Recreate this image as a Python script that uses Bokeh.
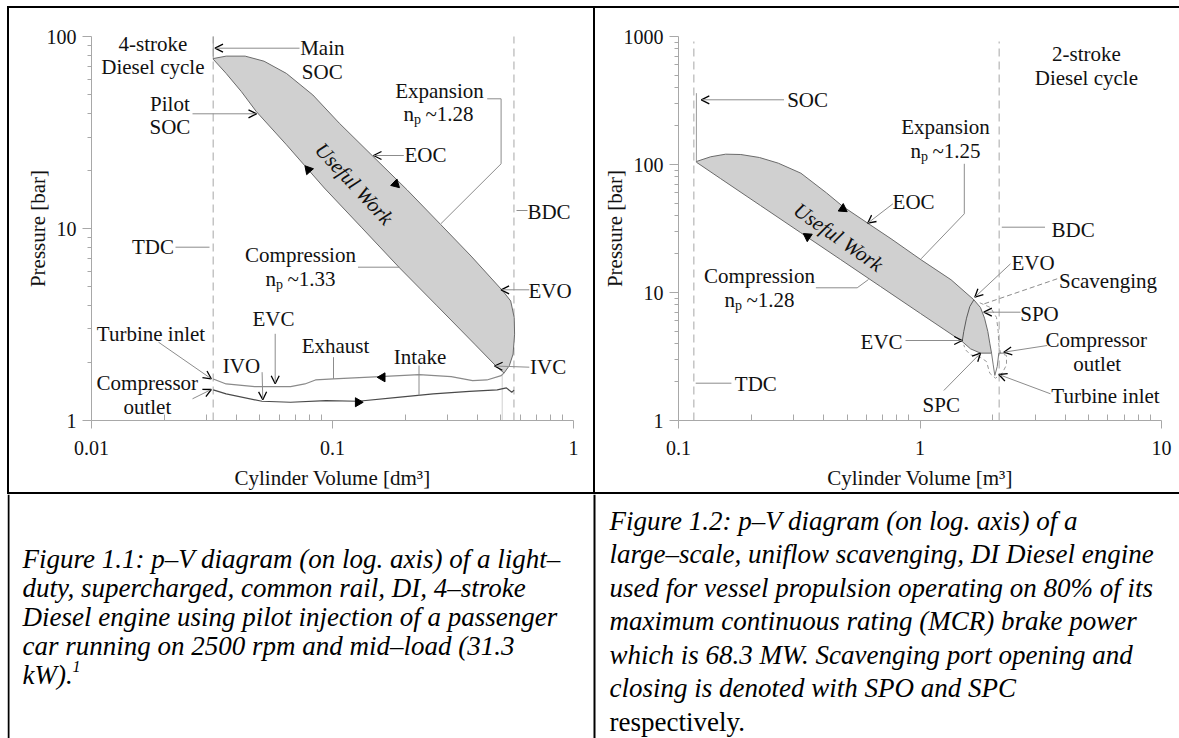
from bokeh.plotting import figure
from bokeh.models import (Range1d, FixedTicker, Label, Arrow, OpenHead, Div, Spacer,
                          CustomJSTickFormatter)
from bokeh.layouts import row, column
from bokeh.embed import file_html
from bokeh.resources import INLINE
import math

FONT = "'Liberation Serif'"

# ---------------- data: Figure 1.1 (4-stroke, light-duty) ----------------
x1_ticks = [0.01, 0.1, 1]
x1_labels = ["0.01", "0.1", "1"]
y1_ticks = [1, 10, 100]
y1_labels = ["1", "10", "100"]

# closed work loop: expansion (upper) to BDC, then compression back to TDC
loop1_v = [0.0320, 0.0362, 0.0434, 0.0520, 0.0644, 0.0829, 0.1067, 0.1474, 0.2037,
           0.2814, 0.3758, 0.5093, 0.5487, 0.5675, 0.5696, 0.5615, 0.5415, 0.5152,
           0.4833, 0.3890, 0.2716, 0.1895, 0.1325, 0.0925, 0.0644, 0.0483, 0.0419,
           0.0362, 0.0320]
loop1_p = [77.1, 79.4, 79.4, 74.7, 64.5, 49.8, 35.5, 23.8, 15.97,
           10.5, 7.20, 4.73, 4.20, 3.44, 2.82, 2.22, 1.93, 1.77,
           1.89, 2.50, 3.96, 6.26, 10.1, 16.3, 27.4, 40.8, 51.8,
           64.5, 76.5]
exhaust1_v = [0.032, 0.0362, 0.0476, 0.0670, 0.0768, 0.0850, 0.1009, 0.1572, 0.2288,
              0.3108, 0.3814, 0.4373, 0.5012, 0.515]
exhaust1_p = [1.647, 1.551, 1.502, 1.502, 1.551, 1.627, 1.647, 1.693, 1.734,
              1.693, 1.614, 1.627, 1.713, 1.77]
intake1_v = [0.032, 0.0362, 0.0510, 0.0670, 0.0940, 0.1277, 0.1862, 0.2618, 0.3698,
             0.4823, 0.5266, 0.5544, 0.567]
intake1_p = [1.444, 1.376, 1.260, 1.245, 1.270, 1.260, 1.321, 1.376, 1.420,
             1.444, 1.479, 1.403, 1.44]
tdc1_v = 0.032
bdc1_v = 0.566
ivc1_v = 0.506
soc1_p = [77.1, 106.0]
ref1_p = [1.0, 106.0]
ivc1_p = [1.0, 1.75]

# direction markers (x, y, rotation in degrees)
dir1_v = [0.0794, 0.1829, 0.1611, 0.1276]
dir1_p = [20.3, 17.1, 1.679, 1.245]
dir1_a = [41, -134, 90, -90]

# ---------------- data: Figure 1.2 (2-stroke, large scale) ----------------
x2_ticks = [0.1, 1, 10]
x2_labels = ["0.1", "1", "10"]
y2_ticks = [1, 10, 100, 1000]
y2_labels = ["1", "10", "100", "1000"]

loop2_v = [0.1186, 0.1359, 0.1568, 0.1811, 0.2164, 0.2590, 0.3213, 0.4100, 0.4794,
           0.6074, 0.7585, 1.0106, 1.345, 1.671, 1.780, 1.850, 1.909, 1.945, 1.978,
           1.780, 1.619, 1.495, 1.005, 0.686, 0.4688, 0.3201, 0.2185, 0.1492, 0.1186]
loop2_p = [105.5, 114.9, 120.4, 119.7, 113.4, 102.4, 85.5, 60.0, 47.0,
           34.8, 26.3, 18.0, 12.57, 8.77, 7.63, 6.30, 4.96, 4.02, 3.36,
           3.36, 3.63, 4.14, 6.85, 11.14, 18.1, 29.4, 47.8, 77.7, 104.2]
evo2_v = [1.495, 1.518, 1.558, 1.608, 1.671]
evo2_p = [4.14, 4.96, 6.30, 7.77, 8.77]
turb2_v = [1.978, 2.010, 2.041, 2.088, 2.120, 2.259]
turb2_p = [3.36, 2.72, 2.25, 2.64, 3.36, 3.36]
scav2_v = [1.768, 1.958, 2.074, 2.108, 2.120, 2.154, 2.281, 2.281, 2.190, 2.054,
           1.945, 1.885, 1.780, 1.619, 1.543, 1.518]
scav2_p = [8.31, 7.63, 6.38, 4.96, 3.90, 3.36, 3.22, 2.72, 2.34, 2.14,
           2.34, 2.89, 3.11, 3.26, 3.57, 3.90]
tdc2_v = 0.1157
bdc2_v = 2.128
soc2_v = 0.1186
soc2_p = [105.5, 361.0]
ref2_p = [1.0, 914.0]

dir2_v = [0.4794, 0.3424]
dir2_p = [45.1, 27.4]
dir2_a = [-124, 56]

# ---------------- captions ----------------
cap_left = ["Figure 1.1: p\u2013V diagram (on log. axis) of a light\u2013",
            "duty, supercharged, common rail, DI, 4\u2013stroke",
            "Diesel engine using pilot injection of a passenger",
            "car running on 2500 rpm and mid\u2013load (31.3",
            "kW)."]
cap_right = ["Figure 1.2: p\u2013V diagram (on log. axis) of a",
             "large\u2013scale, uniflow scavenging, DI Diesel engine",
             "used for vessel propulsion operating on 80% of its",
             "maximum continuous rating (MCR) brake power",
             "which is 68.3 MW. Scavenging port opening and",
             "closing is denoted with SPO and SPC"]
cap_right_last = "respectively."

AX = "#a8a8a8"
LEAD = "#8c8c8c"

Y1_TOP = 100.5
# frame geometry (page pixels) used to place annotations
F1_LEFT, F1_BOTTOM, F1_DX, F1_DY = 91, 420, 241.0, 384.0 / math.log10(Y1_TOP)
F2_LEFT, F2_BOTTOM, F2_DX, F2_DY = 678, 420, 241.5, 128.0


def minor_of(ticks):
    return [t * k for t in ticks[:-1] for k in range(2, 10)]


def make_panel(xr, yr, mb, xt, xl, yt, yl, xtitle, ybounds):
    p = figure(width=584, height=484, x_axis_type="log", y_axis_type="log",
               x_range=Range1d(*xr), y_range=Range1d(*yr), title_location=None,
               min_border_left=mb[0], min_border_right=mb[1],
               min_border_top=mb[2], min_border_bottom=mb[3],
               output_backend="svg", toolbar_location=None)
    p.xgrid.visible = False
    p.ygrid.visible = False
    p.outline_line_color = None
    p.background_fill_color = "white"
    p.border_fill_color = "white"
    xa = p.xaxis[0]
    ya = p.yaxis[0]
    xa.ticker = FixedTicker(ticks=xt, minor_ticks=minor_of(xt))
    ya.ticker = FixedTicker(ticks=yt, minor_ticks=minor_of(yt))
    fmt = "return tick.toString();"
    xa.formatter = CustomJSTickFormatter(code=fmt)
    ya.formatter = CustomJSTickFormatter(code=fmt)
    xa.major_label_overrides = dict(zip(xt, xl))
    ya.major_label_overrides = dict(zip(yt, yl))
    ya.bounds = ybounds
    xa.axis_label = xtitle
    ya.axis_label = "Pressure [bar]"
    for a in (xa, ya):
        a.axis_line_color = AX
        a.major_tick_line_color = AX
        a.minor_tick_line_color = AX
        a.major_label_text_font = FONT
        a.major_label_text_font_size = "20px"
        a.major_label_text_color = "#111111"
        a.axis_label_text_font = FONT
        a.axis_label_text_font_size = "21px"
        a.axis_label_text_font_style = "normal"
        a.axis_label_text_color = "#111111"
    xa.major_tick_out = 8
    xa.major_tick_in = 0
    xa.minor_tick_in = 6
    xa.minor_tick_out = 0
    xa.major_label_standoff = 12
    xa.axis_label_standoff = 8
    ya.major_tick_out = 9
    ya.major_tick_in = 0
    ya.minor_tick_out = 4
    ya.minor_tick_in = 0
    ya.major_label_standoff = 6
    ya.axis_label_standoff = -6
    return p


def conv1(px, py):
    return 10 ** ((px - F1_LEFT) / F1_DX - 2), 10 ** ((F1_BOTTOM - py) / F1_DY)


def conv2(px, py):
    return 10 ** ((px - F2_LEFT) / F2_DX - 1), 10 ** ((F2_BOTTOM - py) / F2_DY)


def add_labels(p, conv, items):
    for text, px, py in items:
        x, y = conv(px, py)
        p.add_layout(Label(x=x, y=y, text=text, text_font=FONT, text_font_size="21px",
                           text_align="center", text_baseline="middle", text_color="#111111"))


def add_np(p, conv, cx, cy, val):
    parts = [("n", cx - 35, cy, "21px"), ("p", cx - 24.5, cy + 6, "14px"), (val, cx - 13, cy, "21px")]
    for text, px, py, fs in parts:
        x, y = conv(px, py)
        p.add_layout(Label(x=x, y=y, text=text, text_font=FONT, text_font_size=fs,
                           text_align="left", text_baseline="middle", text_color="#111111"))


def add_arrows(p, conv, items):
    for x0, y0, x1, y1 in items:
        a0 = conv(x0, y0)
        a1 = conv(x1, y1)
        p.add_layout(Arrow(x_start=a0[0], y_start=a0[1], x_end=a1[0], y_end=a1[1],
                           line_color=LEAD, line_width=1,
                           end=OpenHead(size=8, line_color="black", line_width=1.3)))


def add_leaders(p, conv, polys, dash="solid"):
    for pts in polys:
        cs = [conv(a, b) for a, b in pts]
        p.line([c[0] for c in cs], [c[1] for c in cs], line_color=LEAD, line_width=1,
               line_dash=dash)


# ---------------- panel 1 ----------------
p1 = make_panel((0.01, 1), (1, Y1_TOP), (82, 20, 28, 72), x1_ticks, x1_labels, y1_ticks,
                y1_labels, "Cylinder Volume [dm\u00b3]", (1, 100))
for v in (tdc1_v, bdc1_v):
    p1.line([v, v], ref1_p, line_color="#c4c4c4", line_width=1.5, line_dash="8 5")
p1.line([ivc1_v, ivc1_v], ivc1_p, line_color="#d0d0d0", line_width=1)
p1.line([tdc1_v, tdc1_v], soc1_p, line_color="#9a9a9a", line_width=1)
p1.patch(loop1_v, loop1_p, fill_color="#d0d0d0", line_color="#6a6a6a", line_width=1)
p1.line(exhaust1_v, exhaust1_p, line_color="#8a8a8a", line_width=1.2)
p1.line(intake1_v, intake1_p, line_color="#4a4a4a", line_width=1.2)
p1.scatter(dir1_v, dir1_p, marker="triangle", size=9, angle=dir1_a, angle_units="deg",
           fill_color="black", line_color="black")

add_labels(p1, conv1, [
    ("4-stroke", 152.4, 43.3), ("Diesel cycle", 152.4, 66.7),
    ("Main", 321.8, 47.7), ("SOC", 321.8, 71.0),
    ("Pilot", 169.4, 103.3), ("SOC", 169.4, 126.7),
    ("Expansion", 439.0, 90.0), ("EOC", 425.0, 154.5),
    ("Compression", 300.0, 254.0),
    ("TDC", 152.4, 246.7), ("BDC", 548.5, 211.0),
    ("EVO", 549.5, 290.0), ("IVC", 547.6, 366.7),
    ("EVC", 272.9, 318.3), ("IVO", 240.9, 365.0),
    ("Exhaust", 335.0, 345.0), ("Intake", 419.6, 356.7),
    ("Turbine inlet", 150.5, 333.3), ("Compressor", 146.8, 382.7), ("outlet", 146.8, 406.0),
])
add_np(p1, conv1, 438.0, 113.3, "~1.28")
add_np(p1, conv1, 300.0, 278.3, "~1.33")
uw1 = conv1(353.8, 183.3)
p1.add_layout(Label(x=uw1[0], y=uw1[1], text="Useful Work", angle=-47, angle_units="deg",
                    text_font=FONT, text_font_size="21px", text_font_style="italic",
                    text_align="center", text_baseline="middle", text_color="#111111"))
add_arrows(p1, conv1, [
    (299.0, 47.7, 214.5, 47.7), (192.0, 113.3, 256.0, 113.3), (403.3, 155.0, 373.0, 155.0),
    (528.8, 289.3, 500.6, 289.3), (528.8, 366.7, 494.0, 365.5), (274.7, 333.3, 274.7, 383.3),
    (261.6, 371.7, 262.3, 399.3), (158.0, 341.7, 210.8, 378.3), (192.0, 398.3, 210.8, 389.0),
])
add_leaders(p1, conv1, [
    [(486.7, 98.3), (500.6, 98.3), (500.6, 163.3), (440.3, 223.3)],
    [(357.5, 266.7), (399.0, 266.7)],
    [(175.0, 246.7), (209.0, 246.7)],
    [(516.0, 210.0), (527.0, 210.0)],
    [(333.0, 356.7), (333.0, 378.3)],
    [(418.5, 365.0), (418.5, 395.0)],
])

# ---------------- panel 2 ----------------
p2 = make_panel((0.1, 10), (1, 1000), (83, 18, 28, 72), x2_ticks, x2_labels, y2_ticks,
                y2_labels, "Cylinder Volume [m\u00b3]", (1, 1000))
for v in (tdc2_v, bdc2_v):
    p2.line([v, v], ref2_p, line_color="#c4c4c4", line_width=1.5, line_dash="8 5")
p2.line([soc2_v, soc2_v], soc2_p, line_color="#9a9a9a", line_width=1)
p2.patch(loop2_v, loop2_p, fill_color="#d0d0d0", line_color="#6a6a6a", line_width=1)
p2.line(evo2_v, evo2_p, line_color="#5a5a5a", line_width=1)
p2.line(scav2_v, scav2_p, line_color="#9a9a9a", line_width=1, line_dash="4 3")
p2.line(turb2_v, turb2_p, line_color="#7a7a7a", line_width=1)
p2.scatter(dir2_v, dir2_p, marker="triangle", size=9, angle=dir2_a, angle_units="deg",
           fill_color="black", line_color="black")

add_labels(p2, conv2, [
    ("2-stroke", 1085.9, 53.3), ("Diesel cycle", 1085.9, 77.3),
    ("SOC", 807.1, 99.3), ("Expansion", 945.0, 126.0), ("EOC", 913.1, 201.7),
    ("Compression", 759.0, 275.0), ("BDC", 1072.7, 229.3), ("TDC", 755.3, 383.3),
    ("EVO", 1032.5, 262.5), ("Scavenging", 1107.5, 280.0), ("SPO", 1039.0, 313.0),
    ("EVC", 881.1, 341.7), ("SPC", 940.8, 404.0),
    ("Compressor", 1095.8, 339.0), ("outlet", 1096.7, 363.0), ("Turbine inlet", 1105.0, 395.0),
])
add_np(p2, conv2, 945.0, 150.0, "~1.25")
add_np(p2, conv2, 759.0, 299.0, "~1.28")
uw2 = conv2(837.9, 236.7)
p2.add_layout(Label(x=uw2[0], y=uw2[1], text="Useful Work", angle=-35, angle_units="deg",
                    text_font=FONT, text_font_size="21px", text_font_style="italic",
                    text_align="center", text_baseline="middle", text_color="#111111"))
add_arrows(p2, conv2, [
    (783.5, 99.3, 700.8, 99.3), (892.4, 203.3, 867.2, 222.7), (1010.0, 263.3, 974.3, 296.7),
    (1020.0, 311.7, 983.3, 311.7), (905.0, 340.0, 961.7, 340.0), (943.3, 390.0, 980.0, 352.7),
    (1046.7, 345.0, 1003.3, 351.7), (1050.0, 393.3, 998.3, 374.0),
])
add_leaders(p2, conv2, [
    [(963.8, 163.3), (963.8, 213.3), (920.6, 258.3)],
    [(815.4, 287.3), (856.7, 287.3), (868.0, 279.0)],
    [(1001.3, 226.7), (1044.5, 226.7)],
    [(695.2, 382.7), (730.9, 382.7)],
])
add_leaders(p2, conv2, [[(1056.7, 278.3), (981.7, 304.0)]], dash="5 3")

# ---------------- caption row ----------------
cap = figure(width=1172, height=244, x_range=Range1d(7, 1179), y_range=Range1d(738, 494),
             title_location=None, min_border=0, x_axis_location=None, y_axis_location=None,
             output_backend="svg", toolbar_location=None)
cap.grid.visible = False
cap.outline_line_color = None
cap.segment(x0=[8, 594], y0=[494, 494], x1=[8, 594], y1=[738, 738],
            line_color="black", line_width=2)
CAP_FS = "27px"
for i, t in enumerate(cap_left):
    cap.add_layout(Label(x=22, y=558 + 29 * i, text=t, text_font=FONT, text_font_size=CAP_FS,
                         text_font_style="italic", text_baseline="middle", text_color="black"))
cap.add_layout(Label(x=72, y=558 + 29 * 4 - 8, text="1", text_font=FONT, text_font_size="16px",
                     text_font_style="italic", text_baseline="middle", text_color="black"))
RSTEP = 33.5
for i, t in enumerate(cap_right):
    cap.add_layout(Label(x=609, y=520 + RSTEP * i, text=t, text_font=FONT, text_font_size=CAP_FS,
                         text_font_style="italic", text_baseline="middle", text_color="black"))
cap.add_layout(Label(x=609, y=520 + RSTEP * 6, text=cap_right_last, text_font=FONT,
                     text_font_size=CAP_FS, text_baseline="middle", text_color="black"))


def bar(w, h):
    return Div(text="", width=w, height=h, margin=0, styles={"background-color": "black"})


layout = row(Spacer(width=7, height=738, margin=0),
             column(Spacer(width=1172, height=6, margin=0), bar(1172, 2),
                    row(bar(2, 484), p1, bar(2, 484), p2),
                    bar(1172, 2), cap))

open("out.html", "w").write(file_html(layout, INLINE, title="p-V diagrams"))
